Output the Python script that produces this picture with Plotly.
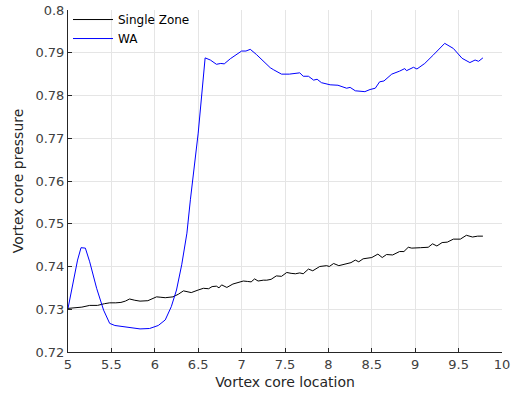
import plotly.graph_objects as go

# Single Zone (black)
sz_x = [5.0, 5.08, 5.16, 5.25, 5.34, 5.42, 5.48, 5.55, 5.61, 5.66, 5.71, 5.77, 5.83, 5.92, 5.97, 6.02, 6.07,
        6.12, 6.21, 6.27, 6.33, 6.42, 6.50, 6.56, 6.62, 6.66, 6.71, 6.74, 6.77, 6.83, 6.90, 6.96, 7.02,
        7.07, 7.11, 7.15, 7.19, 7.25, 7.29, 7.34, 7.40, 7.46, 7.52, 7.57, 7.62, 7.67, 7.71, 7.77, 7.82,
        7.90, 7.98, 8.01, 8.06, 8.12, 8.21, 8.26, 8.31, 8.35, 8.40, 8.50, 8.57, 8.62, 8.67, 8.74, 8.82,
        8.87, 8.92, 8.96, 9.06, 9.15, 9.20, 9.25, 9.31, 9.37, 9.44, 9.52, 9.59, 9.66, 9.72, 9.78]
sz_y = [0.7302, 0.7303, 0.7305, 0.7309, 0.7309, 0.7313, 0.7315, 0.7315, 0.7316, 0.7319, 0.7324, 0.7321,
        0.7319, 0.7320, 0.7324, 0.7329, 0.7328, 0.7327, 0.7329, 0.7335, 0.7343, 0.7339, 0.7345, 0.7349,
        0.7348, 0.7353, 0.7354, 0.7350, 0.7357, 0.7351, 0.7359, 0.7362, 0.7366, 0.7365, 0.7364, 0.7371,
        0.7366, 0.7368, 0.7368, 0.7370, 0.7378, 0.7377, 0.7386, 0.7384, 0.7383, 0.7385, 0.7383, 0.7394,
        0.7390, 0.7400, 0.7402, 0.7400, 0.7407, 0.7402, 0.7406, 0.7409, 0.7415, 0.7411, 0.7418, 0.7421,
        0.7429, 0.7421, 0.7428, 0.7427, 0.7435, 0.7435, 0.7445, 0.7443, 0.7444, 0.7445, 0.7453, 0.7448,
        0.7456, 0.7457, 0.7464, 0.7464, 0.7473, 0.7469, 0.7471, 0.7471]

# WA (blue)
wa_x = [5.0, 5.06, 5.11, 5.15, 5.20, 5.25, 5.33, 5.41, 5.48, 5.54, 5.68, 5.83, 5.94, 6.04, 6.12, 6.19,
        6.25, 6.31, 6.37, 6.41, 6.50, 6.58, 6.64, 6.71, 6.76, 6.80, 6.87, 6.94, 7.00, 7.05, 7.10, 7.17,
        7.25, 7.33, 7.37, 7.46, 7.55, 7.67, 7.71, 7.77, 7.83, 7.87, 7.92, 8.02, 8.11, 8.21, 8.25, 8.31,
        8.42, 8.48, 8.54, 8.59, 8.64, 8.73, 8.82, 8.88, 8.90, 8.98, 9.02, 9.11, 9.21, 9.34, 9.44, 9.54,
        9.63, 9.69, 9.73, 9.78]
wa_y = [0.7302, 0.7368, 0.7415, 0.7444, 0.7443, 0.7411, 0.7349, 0.7298, 0.7267, 0.7262, 0.7259, 0.7254,
        0.7255, 0.7262, 0.7275, 0.7306, 0.7345, 0.7404, 0.7478, 0.7556, 0.7712, 0.7888, 0.7883, 0.7873,
        0.7875, 0.7874, 0.7886, 0.7895, 0.7904, 0.7904, 0.7908, 0.7896, 0.7880, 0.7865, 0.7860, 0.7850,
        0.7850, 0.7853, 0.7845, 0.7845, 0.7836, 0.7838, 0.7830, 0.7825, 0.7824, 0.7817, 0.7819, 0.7811,
        0.7809, 0.7814, 0.7817, 0.7832, 0.7834, 0.7850, 0.7857, 0.7863, 0.7858, 0.7866, 0.7862, 0.7875,
        0.7895, 0.7922, 0.7910, 0.7887, 0.7877, 0.7883, 0.7880, 0.7888]

x_ticks = [5, 5.5, 6, 6.5, 7, 7.5, 8, 8.5, 9, 9.5, 10]
y_ticks = [0.72, 0.73, 0.74, 0.75, 0.76, 0.77, 0.78, 0.79, 0.8]

fig = go.Figure()
fig.add_trace(go.Scatter(x=sz_x, y=sz_y, mode="lines", name="Single Zone",
                         line=dict(color="#000000", width=1)))
fig.add_trace(go.Scatter(x=wa_x, y=wa_y, mode="lines", name="WA",
                         line=dict(color="#0000ff", width=1)))

axis_common = dict(
    showgrid=True, gridcolor="#e5e5e5", gridwidth=1,
    showline=True, linecolor="#262626", linewidth=1,
    ticks="inside", ticklen=4, tickcolor="#262626",
    tickfont=dict(family="DejaVu Sans", size=13, color="#404040"),
    zeroline=False, mirror=False,
)
fig.update_xaxes(range=[5, 10], tickvals=x_ticks, ticktext=[f"{v:g}" for v in x_ticks],
                 title=dict(text="Vortex core location", font=dict(family="DejaVu Sans", size=14, color="#262626"), standoff=6),
                 **axis_common)
fig.update_yaxes(range=[0.72, 0.8], tickvals=y_ticks, ticktext=[f"{v:g}" for v in y_ticks],
                 title=dict(text="Vortex core pressure", font=dict(family="DejaVu Sans", size=14, color="#262626"), standoff=8),
                 **axis_common)
fig.update_layout(
    width=527, height=399,
    margin=dict(l=68, r=25, t=10, b=47, autoexpand=False),
    paper_bgcolor="white", plot_bgcolor="white",
    font=dict(family="DejaVu Sans", size=13, color="#262626"),
    legend=dict(x=0.0, y=1.0145, xanchor="left", yanchor="top", bgcolor="rgba(255,255,255,0)",
                font=dict(family="DejaVu Sans", size=12, color="#000000"), tracegroupgap=0,
                itemwidth=40),
    showlegend=True,
)
fig.write_html("out.html")
